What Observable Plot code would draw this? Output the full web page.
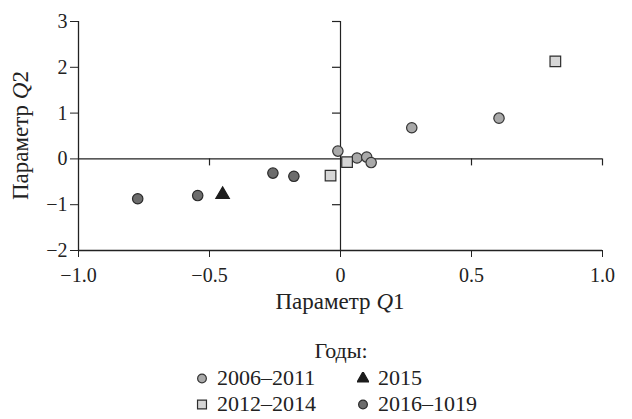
<!DOCTYPE html>
<html><head><meta charset="utf-8">
<style>
html,body{margin:0;padding:0;background:#fff;}
body{width:632px;height:419px;overflow:hidden;font-family:'Liberation Serif' !important;color:#222;}
#legend{position:relative;width:632px;font-size:22px;line-height:26px;font-family:'Liberation Serif' !important;}
#legend .title{position:absolute;left:0;width:682px;text-align:center;top:18px;}
#legend .grid{position:absolute;left:196px;top:45px;display:grid;grid-template-columns:161px 140px;}
#legend .item{display:flex;align-items:center;height:26px;white-space:nowrap;}
#legend svg{flex:none;margin-right:9px;}
svg, svg text, svg g{font-family:'Liberation Serif' !important;}
</style>
<script src="https://cdn.jsdelivr.net/npm/d3@7"></script>
<script src="https://cdn.jsdelivr.net/npm/@observablehq/plot@0.6"></script>
</head><body>
<div id="chart"></div>
<div id="legend"></div>
<script>
// ---- data ----
const groups = ["2006–2011", "2012–2014", "2015", "2016–1019"];
const g1x = [-0.01, 0.063, 0.10, 0.117, 0.272, 0.605];
const g1y = [0.17, 0.02, 0.04, -0.08, 0.68, 0.89];
const g2x = [0.82, 0.025, -0.038];
const g2y = [2.13, -0.07, -0.365];
const g3x = [-0.45];
const g3y = [-0.78];
const g4x = [-0.774, -0.545, -0.258, -0.178];
const g4y = [-0.87, -0.80, -0.31, -0.38];
const xDomain = [-1, 1];
const yDomain = [-2, 3];
const xTicks = [-1, -0.5, 0, 0.5, 1];
const xTickLabels = ["−1.0", "−0.5", "0", "0.5", "1.0"];
const yTicks = [-2, -1, 0, 1, 2, 3];
const yTickLabels = ["−2", "−1", "0", "1", "2", "3"];
const xTitle = ["Параметр ", "Q", "1"];
const yTitle = ["Параметр ", "Q", "2"];
const legendTitle = "Годы:";

// ---- styles ----
const fontName = "Liberation Serif";
const styles = [
  {symbol: "circle", fill: "#a9a9a9", stroke: "#333", r: 5.2},
  {symbol: "square", fill: "#d6d6d6", stroke: "#2e2e2e", r: 6.0},
  {symbol: "triangle", fill: "#1c1c1c", stroke: "#1c1c1c", r: 5.0},
  {symbol: "circle", fill: "#6c6c6c", stroke: "#2a2a2a", r: 5.2}
];
const toRows = (xs, ys) => xs.map((x, i) => ({x, y: ys[i]}));
const series = [toRows(g1x, g1y), toRows(g2x, g2y), toRows(g3x, g3y), toRows(g4x, g4y)];
const lineColor = "#222";

const plot = Plot.plot({
  width: 632, height: 320,
  marginLeft: 78, marginRight: 30, marginTop: 21, marginBottom: 70,
  style: {fontFamily: fontName, fontSize: "20px", color: "#222", background: "#fff"},
  x: {domain: xDomain, ticks: xTicks, tickFormat: d => xTickLabels[xTicks.indexOf(d)], tickSize: 7, tickPadding: 10, label: null},
  y: {domain: yDomain, ticks: yTicks, tickFormat: d => yTickLabels[yTicks.indexOf(d)], tickSize: 8, tickPadding: 3, label: null},
  marks: [
    Plot.ruleX([xDomain[0]], {stroke: lineColor, strokeWidth: 1.3}),
    Plot.ruleY([yDomain[0]], {stroke: lineColor, strokeWidth: 1.3}),
    Plot.ruleX([0], {stroke: lineColor, strokeWidth: 1.2}),
    Plot.ruleY([0], {stroke: lineColor, strokeWidth: 1.2}),
    Plot.ruleX(xTicks.filter(d => d !== xDomain[0] && d !== 0), {x: d => d, y1: () => 0, y2: () => 0, insetBottom: -7, stroke: lineColor, strokeWidth: 1.2}),
    Plot.ruleY(yTicks.filter(d => d !== yDomain[0] && d !== 0), {y: d => d, x1: () => 0, x2: () => 0, insetLeft: -8, stroke: lineColor, strokeWidth: 1.2}),
    ...series.map((rows, i) => Plot.dot(rows, {x: "x", y: "y", symbol: styles[i].symbol, r: styles[i].r, fill: styles[i].fill, stroke: styles[i].stroke, strokeWidth: 1.2}))
  ]
});
document.getElementById("chart").appendChild(plot);

// axis titles with italic Q
const sx = plot.scale("x"), sy = plot.scale("y");
const cx = (sx.apply(xDomain[0]) + sx.apply(xDomain[1])) / 2;
const cy = (sy.apply(yDomain[0]) + sy.apply(yDomain[1])) / 2;
const svg = d3.select(plot);
function addTitle(parts, attrs) {
  const t = svg.append("text").attr("font-family", fontName).attr("font-size", 23)
    .attr("fill", "#222").attr("text-anchor", "middle");
  for (const [k, v] of Object.entries(attrs)) t.attr(k, v);
  parts.forEach((p, i) => t.append("tspan").attr("font-style", i === 1 ? "italic" : "normal").text(p));
}
addTitle(xTitle, {x: cx, y: 309});
addTitle(yTitle, {transform: `translate(28,${cy}) rotate(-90)`});

// legend
const legend = d3.select("#legend");
legend.append("div").attr("class", "title").text(legendTitle);
const grid = legend.append("div").attr("class", "grid");
const order = [0, 2, 1, 3];
order.forEach(i => {
  const item = grid.append("div").attr("class", "item");
  const s = item.append("svg").attr("width", 12).attr("height", 12);
  const sz = styles[i].symbol === "square" ? 80 : 60;
  const sym = {circle: d3.symbolCircle, square: d3.symbolSquare, triangle: d3.symbolTriangle}[styles[i].symbol];
  s.append("path").attr("transform", "translate(6,6.5)").attr("d", d3.symbol(sym, sz)())
    .attr("fill", styles[i].fill).attr("stroke", styles[i].stroke).attr("stroke-width", 1.2);
  item.append("span").text(groups[i]);
});
</script>
</body></html>
